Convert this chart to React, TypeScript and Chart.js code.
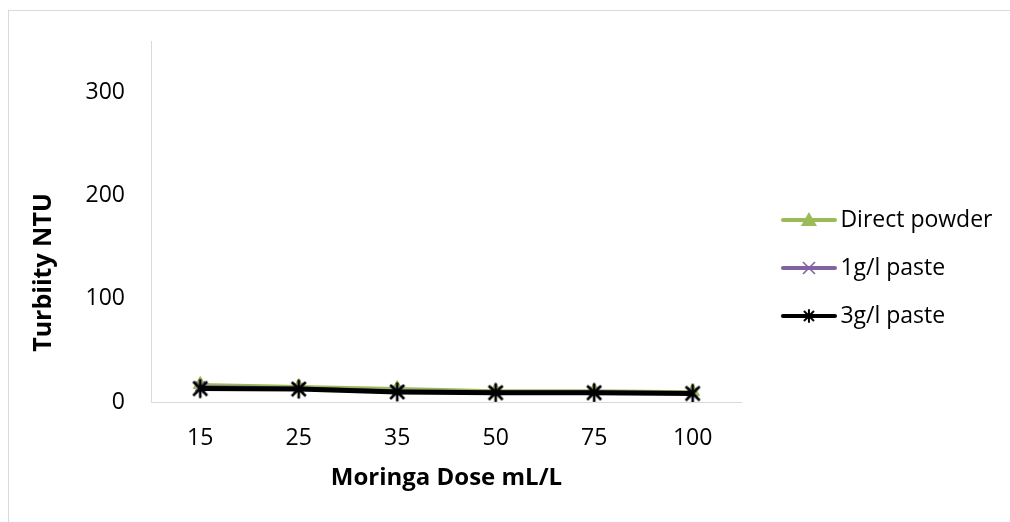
import React, { useEffect, useRef } from "react";
import { Chart, registerables } from "chart.js";

Chart.register(...registerables);

const categories = ["15", "25", "35", "50", "75", "100"];
const directPowder = [17, 15, 13, 11, 11, 10];
const paste1g = [15, 13.5, 11, 10, 10, 9];
const paste3g = [13, 12.5, 9.8, 9, 9, 8.3];
const yTicks = [0, 100, 200, 300];
const seriesLabels = ["Direct powder", "1g/l paste", "3g/l paste"];
const xTitle = "Moringa Dose mL/L";
const yTitle = "Turbiity NTU";

const GREEN = "#9BBB59";
const PURPLE = "#8064A2";
const BLACK = "#000000";
const FONT = "'Open Sans', 'Noto Sans', sans-serif";

function makeCanvas(w: number, h: number) {
  const c = document.createElement("canvas");
  c.width = w;
  c.height = h;
  return c;
}

function drawTriangle(ctx: CanvasRenderingContext2D, cx: number, cy: number, w: number, h: number, color: string) {
  ctx.fillStyle = color;
  ctx.beginPath();
  ctx.moveTo(cx, cy - h / 2);
  ctx.lineTo(cx + w / 2, cy + h / 2);
  ctx.lineTo(cx - w / 2, cy + h / 2);
  ctx.closePath();
  ctx.fill();
}

function drawX(ctx: CanvasRenderingContext2D, cx: number, cy: number, s: number, color: string, lw: number) {
  ctx.strokeStyle = color;
  ctx.lineWidth = lw;
  ctx.beginPath();
  ctx.moveTo(cx - s, cy - s);
  ctx.lineTo(cx + s, cy + s);
  ctx.moveTo(cx + s, cy - s);
  ctx.lineTo(cx - s, cy + s);
  ctx.stroke();
}

function drawAsterisk(ctx: CanvasRenderingContext2D, cx: number, cy: number, s: number, color: string, lw: number) {
  drawX(ctx, cx, cy, s, color, lw);
  ctx.beginPath();
  ctx.moveTo(cx, cy - s * 1.35);
  ctx.lineTo(cx, cy + s * 1.35);
  ctx.stroke();
}

function starPoint() {
  const c = makeCanvas(22, 24);
  const ctx = c.getContext("2d")!;
  drawAsterisk(ctx, 11, 12, 7, BLACK, 2.6);
  return c;
}

function legendImage(kind: number) {
  const c = makeCanvas(78, 22);
  const ctx = c.getContext("2d")!;
  const colors = [GREEN, PURPLE, BLACK];
  ctx.strokeStyle = colors[kind];
  ctx.lineWidth = 4;
  ctx.lineCap = "round";
  ctx.beginPath();
  ctx.moveTo(24, 11);
  ctx.lineTo(76, 11);
  ctx.stroke();
  ctx.lineCap = "butt";
  if (kind === 0) drawTriangle(ctx, 50, 10, 16, 14, GREEN);
  if (kind === 1) drawX(ctx, 50, 11, 6, PURPLE, 1.6);
  if (kind === 2) drawAsterisk(ctx, 50, 11, 5, BLACK, 2);
  return c;
}

const yTitlePlugin = {
  id: "yTitleOffset",
  afterDraw(chart: any) {
    const ctx = chart.ctx as CanvasRenderingContext2D;
    const s = chart.scales.y;
    const ca = chart.chartArea;
    ctx.save();
    ctx.font = "bold 25px " + FONT;
    ctx.fillStyle = "#000";
    ctx.textAlign = "center";
    ctx.textBaseline = "middle";
    ctx.translate(s.left + 18, (ca.top + ca.bottom) / 2 + 51);
    ctx.rotate(-Math.PI / 2);
    ctx.fillText(yTitle, 0, 0);
    ctx.restore();
  },
};

export default function App() {
  const ref = useRef<HTMLCanvasElement>(null);

  useEffect(() => {
    if (!ref.current) return;
    const legendImgs = [legendImage(0), legendImage(1), legendImage(2)];
    Chart.defaults.font.family = FONT;
    Chart.defaults.color = "#000";
    const chart = new Chart(ref.current, {
      type: "line",
      data: {
        labels: categories,
        datasets: [
          {
            label: seriesLabels[0],
            data: directPowder,
            borderColor: GREEN,
            backgroundColor: GREEN,
            borderWidth: 3,
            pointStyle: "triangle",
            pointRadius: 8,
            pointBackgroundColor: GREEN,
            pointBorderColor: GREEN,
            pointBorderWidth: 1,
            tension: 0,
            order: 2,
          },
          {
            label: seriesLabels[1],
            data: paste1g,
            borderColor: PURPLE,
            backgroundColor: PURPLE,
            borderWidth: 3,
            pointStyle: "crossRot",
            pointRadius: 7,
            pointBorderColor: PURPLE,
            pointBorderWidth: 2,
            tension: 0,
            order: 1,
          },
          {
            label: seriesLabels[2],
            data: paste3g,
            borderColor: BLACK,
            backgroundColor: BLACK,
            borderWidth: 5,
            pointStyle: starPoint() as any,
            pointRadius: 8,
            tension: 0,
            order: 0,
          },
        ],
      },
      options: {
        responsive: false,
        animation: false,
        layout: { padding: { left: 17, top: 30, bottom: 27, right: 7.5 } },
        plugins: {
          tooltip: { enabled: false },
          legend: {
            position: "right",
            align: "center",
            maxWidth: 500,
            labels: {
              usePointStyle: true,
              pointStyleWidth: 62,
              padding: 25,
              color: "#000",
              font: { size: 23, family: FONT },
              generateLabels: (ch: any) =>
                ch.data.datasets.map((ds: any, i: number) => ({
                  text: ds.label,
                  pointStyle: legendImgs[i],
                  datasetIndex: i,
                  hidden: false,
                  lineWidth: 0,
                  fillStyle: "transparent",
                  strokeStyle: "transparent",
                  fontColor: "#000",
                })),
            },
          },
        },
        scales: {
          x: {
            type: "category",
            offset: true,
            grid: { display: false, drawTicks: false },
            border: { display: true, color: "#d9d9d9", width: 1 },
            ticks: { padding: 23, font: { size: 23 }, color: "#000", maxRotation: 0 },
            title: {
              display: true,
              text: xTitle,
              font: { size: 24, weight: "bold" },
              color: "#000",
              padding: { top: 4, bottom: 2.5 },
            },
            afterFit: (s: any) => {
              s.height = 93;
              s.paddingLeft = 0;
              s.paddingRight = 0;
            },
          },
          y: {
            type: "linear",
            min: 0,
            max: 350,
            grid: { display: false, drawTicks: false },
            border: { display: true, color: "#d9d9d9", width: 1 },
            ticks: { padding: 26, font: { size: 23 }, color: "#000" },
            afterBuildTicks: (s: any) => {
              s.ticks = yTicks.map((v) => ({ value: v }));
            },
            title: { display: false },
            afterFit: (s: any) => {
              s.width = 125;
              s.paddingTop = 0;
              s.paddingBottom = 0;
            },
          },
        },
      },
      plugins: [yTitlePlugin],
    });
    return () => chart.destroy();
  }, []);

  return (
    <div
      style={{
        position: "fixed",
        left: 8,
        top: 10,
        width: 1001,
        height: 511,
        borderLeft: "1px solid #d9d9d9",
        borderTop: "1px solid #d9d9d9",
        background: "#fff",
      }}
    >
      <canvas ref={ref} width={1001} height={511} style={{ display: "block" }} />
    </div>
  );
}
